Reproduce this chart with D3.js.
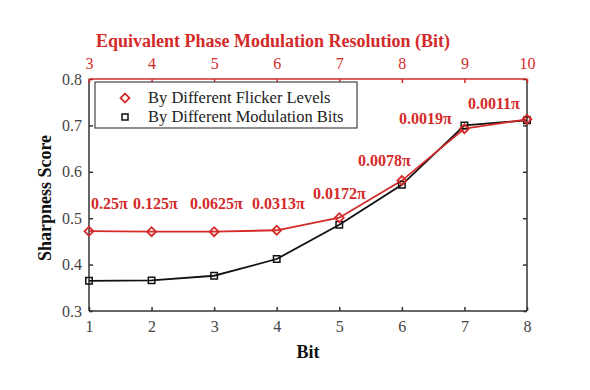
<!DOCTYPE html>
<html><head><meta charset="utf-8">
<script src="https://cdn.jsdelivr.net/npm/d3@7"></script>
<style>body{margin:0;background:#fff}svg{display:block}</style>
</head><body>
<svg id="c" width="590" height="390"></svg>
<script>
const bits = [1,2,3,4,5,6,7,8];
const topTicks = [3,4,5,6,7,8,9,10];
const flicker = [0.472,0.471,0.471,0.474,0.501,0.581,0.693,0.713];
const modBits = [0.365,0.366,0.376,0.412,0.486,0.572,0.700,0.711];
const flickerLabels = ["0.25π","0.125π","0.0625π","0.0313π","0.0172π","0.0078π","0.0019π","0.0011π"];
const yTicks = [0.3,0.4,0.5,0.6,0.7,0.8];
const seriesNames = ["By Different Flicker Levels","By Different Modulation Bits"];

const RED = "#d42a2a", DARK = "#333";
const svg = d3.select("#c");
const m = {l:89, r:527, t:79, b:311};
const x = d3.scaleLinear().domain([1,8]).range([m.l,m.r]);
const xTop = d3.scaleLinear().domain([3,10]).range([m.l,m.r]);
const y = d3.scaleLinear().domain([0.3,0.8]).range([m.b,m.t]);
const serif = "'Liberation Serif','Times New Roman',serif";

// axes
const gB = svg.append("g").attr("transform",`translate(0,${m.b})`)
  .call(d3.axisBottom(x).tickValues(bits).tickSize(-4).tickPadding(10).tickFormat(d3.format("d")));
const gL = svg.append("g").attr("transform",`translate(${m.l},0)`)
  .call(d3.axisLeft(y).tickValues(yTicks).tickSize(-4).tickPadding(7).tickFormat(d3.format(".1f")));
const gR = svg.append("g").attr("transform",`translate(${m.r},0)`)
  .call(d3.axisRight(y).tickValues(yTicks).tickSize(-4).tickFormat(""));
const gT = svg.append("g").attr("transform",`translate(0,${m.t})`)
  .call(d3.axisTop(xTop).tickValues(topTicks).tickSize(-4).tickPadding(10).tickFormat(d3.format("d")));
[gB,gL,gR].forEach(g=>{
  g.selectAll("path,line").attr("stroke",DARK).attr("stroke-width",1.5);
  g.selectAll("text").attr("fill","#444").style("font-family",serif).style("font-size","16px");
});
gT.selectAll("path,line").attr("stroke",RED).attr("stroke-width",1.5);
gT.selectAll("text").attr("fill",RED).style("font-family",serif).style("font-size","16px");
gB.select(".domain").attr("d",`M${m.l},0H${m.r}`);
gL.select(".domain").attr("d",`M0,${m.b}V${m.t}`);
gR.select(".domain").attr("d",`M0,${m.b}V${m.t}`);
gT.select(".domain").attr("d",`M${m.l},0H${m.r}`);

// titles
svg.append("text").attr("x",273).attr("y",47).attr("text-anchor","middle")
  .attr("fill",RED).style("font-family",serif).style("font-weight","bold").style("font-size","18px")
  .text("Equivalent Phase Modulation Resolution (Bit)");
svg.append("text").attr("x",(m.l+m.r)/2).attr("y",358).attr("text-anchor","middle")
  .attr("fill","#111").style("font-family",serif).style("font-weight","bold").style("font-size","18px").text("Bit");
svg.append("text").attr("transform",`translate(51,${(m.t+m.b)/2+3}) rotate(-90)`).attr("text-anchor","middle")
  .attr("fill","#111").style("font-family",serif).style("font-weight","bold").style("font-size","18px").text("Sharpness Score");

// lines
const line = d3.line().x((d,i)=>x(bits[i])).y(d=>y(d)).curve(d3.curveLinear);
svg.append("path").datum(modBits).attr("d",line).attr("fill","none").attr("stroke","#111").attr("stroke-width",1.8);
svg.append("path").datum(flicker).attr("d",line).attr("fill","none").attr("stroke",RED).attr("stroke-width",1.8);

const sq = d3.symbol().type(d3.symbolSquare).size(42);
const di = d3.symbol().type(d3.symbolSquare).size(40);
svg.append("g").selectAll("path").data(modBits).join("path")
  .attr("d",sq).attr("transform",(d,i)=>`translate(${x(bits[i])},${y(d)})`)
  .attr("fill","none").attr("stroke","#111").attr("stroke-width",1.5);
svg.append("g").selectAll("path").data(flicker).join("path")
  .attr("d",di).attr("transform",(d,i)=>`translate(${x(bits[i])},${y(d)}) rotate(45)`)
  .attr("fill","none").attr("stroke",RED).attr("stroke-width",1.8);

// point labels
const labelPos = [[91,209],[133,209],[190,209],[252,209],[313,199],[358,166],[399,124],[468,109]];
svg.append("g").selectAll("text").data(flickerLabels).join("text")
  .attr("x",(d,i)=>labelPos[i][0]).attr("y",(d,i)=>labelPos[i][1])
  .attr("fill",RED).style("font-family",serif).style("font-weight","bold").style("font-size","16px")
  .text(d=>d);

// legend
const lg = svg.append("g");
lg.append("rect").attr("x",95).attr("y",82).attr("width",262).attr("height",46)
  .attr("fill","#fff").attr("stroke","#444").attr("stroke-width",1.2);
lg.append("path").attr("d",d3.symbol().type(d3.symbolSquare).size(40)).attr("transform","translate(125,98) rotate(45)")
  .attr("fill","none").attr("stroke",RED).attr("stroke-width",1.8);
lg.append("path").attr("d",d3.symbol().type(d3.symbolSquare).size(36)).attr("transform","translate(125,117)")
  .attr("fill","none").attr("stroke","#111").attr("stroke-width",1.5);
lg.selectAll("text.l").data(seriesNames).join("text").attr("class","l")
  .attr("x",148).attr("y",(d,i)=>103+i*19)
  .attr("fill","#222").style("font-family",serif).style("font-size","16.5px").text(d=>d);
</script>
</body></html>
